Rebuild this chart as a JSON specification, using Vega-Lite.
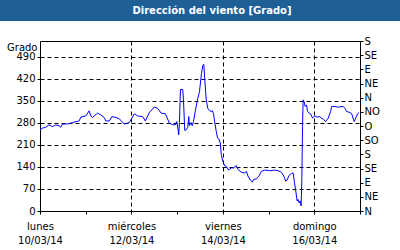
{
  "$schema": "https://vega.github.io/schema/vega-lite/v6.json",
  "padding": {"left": 0, "top": 0, "right": 0, "bottom": 4},
  "background": "white",
  "columns": 1,
  "spacing": 20,
  "bounds": "flush",
  "center": true,
  "config": {
    "font": "DejaVu Sans",
    "view": {"stroke": null},
    "axis": {
      "labelFont": "DejaVu Sans",
      "labelFontSize": 10,
      "labelColor": "black",
      "domainColor": "black",
      "tickColor": "black",
      "tickSize": 3,
      "gridColor": "black",
      "gridDash": [4, 3],
      "gridOpacity": 1,
      "labelOverlap": false
    }
  },
  "concat": [
    {
      "width": 400,
      "height": 21,
      "view": {"fill": "#1E5F96", "stroke": null},
      "data": {"values": [{"title": "Dirección del viento [Grado]"}]},
      "mark": {"type": "text", "color": "white", "font": "DejaVu Sans", "fontSize": 10, "fontWeight": "bold", "dx": 12},
      "encoding": {"text": {"field": "title"}}
    },
    {
      "width": 320,
      "height": 170,
      "data": {
        "values": [
          {"t": "2014-03-10T00:00", "v": 258},
          {"t": "2014-03-10T01:13", "v": 263},
          {"t": "2014-03-10T03:00", "v": 266},
          {"t": "2014-03-10T04:44", "v": 274},
          {"t": "2014-03-10T06:29", "v": 268},
          {"t": "2014-03-10T08:16", "v": 273},
          {"t": "2014-03-10T10:00", "v": 271},
          {"t": "2014-03-10T10:54", "v": 266},
          {"t": "2014-03-10T11:45", "v": 276},
          {"t": "2014-03-10T15:16", "v": 277},
          {"t": "2014-03-10T17:01", "v": 281},
          {"t": "2014-03-10T20:32", "v": 286},
          {"t": "2014-03-10T21:26", "v": 298},
          {"t": "2014-03-11T00:04", "v": 302},
          {"t": "2014-03-11T01:48", "v": 318},
          {"t": "2014-03-11T02:42", "v": 302},
          {"t": "2014-03-11T03:33", "v": 297},
          {"t": "2014-03-11T06:11", "v": 311},
          {"t": "2014-03-11T07:58", "v": 305},
          {"t": "2014-03-11T09:42", "v": 297},
          {"t": "2014-03-11T10:36", "v": 286},
          {"t": "2014-03-11T12:20", "v": 286},
          {"t": "2014-03-11T13:46", "v": 300},
          {"t": "2014-03-11T15:52", "v": 297},
          {"t": "2014-03-11T17:36", "v": 293},
          {"t": "2014-03-11T19:02", "v": 284},
          {"t": "2014-03-11T20:14", "v": 276},
          {"t": "2014-03-11T21:59", "v": 279},
          {"t": "2014-03-11T23:14", "v": 284},
          {"t": "2014-03-12T01:30", "v": 309},
          {"t": "2014-03-12T03:15", "v": 302},
          {"t": "2014-03-12T05:53", "v": 300},
          {"t": "2014-03-12T07:18", "v": 286},
          {"t": "2014-03-12T09:25", "v": 313},
          {"t": "2014-03-12T12:02", "v": 330},
          {"t": "2014-03-12T13:47", "v": 326},
          {"t": "2014-03-12T15:34", "v": 311},
          {"t": "2014-03-12T17:50", "v": 309},
          {"t": "2014-03-12T19:56", "v": 279},
          {"t": "2014-03-12T21:41", "v": 274},
          {"t": "2014-03-12T23:06", "v": 274},
          {"t": "2014-03-12T23:47", "v": 284},
          {"t": "2014-03-13T00:19", "v": 266},
          {"t": "2014-03-13T00:50", "v": 242},
          {"t": "2014-03-13T01:12", "v": 281},
          {"t": "2014-03-13T01:44", "v": 386},
          {"t": "2014-03-13T02:56", "v": 386},
          {"t": "2014-03-13T03:19", "v": 353},
          {"t": "2014-03-13T04:00", "v": 256},
          {"t": "2014-03-13T04:44", "v": 258},
          {"t": "2014-03-13T05:35", "v": 266},
          {"t": "2014-03-13T06:06", "v": 300},
          {"t": "2014-03-13T06:28", "v": 271},
          {"t": "2014-03-13T07:22", "v": 281},
          {"t": "2014-03-13T07:54", "v": 271},
          {"t": "2014-03-13T08:35", "v": 284},
          {"t": "2014-03-13T09:38", "v": 321},
          {"t": "2014-03-13T10:51", "v": 358},
          {"t": "2014-03-13T11:44", "v": 379},
          {"t": "2014-03-13T12:47", "v": 437},
          {"t": "2014-03-13T13:29", "v": 463},
          {"t": "2014-03-13T14:00", "v": 466},
          {"t": "2014-03-13T14:32", "v": 416},
          {"t": "2014-03-13T15:16", "v": 353},
          {"t": "2014-03-13T16:07", "v": 326},
          {"t": "2014-03-13T17:00", "v": 319},
          {"t": "2014-03-13T17:54", "v": 316},
          {"t": "2014-03-13T18:26", "v": 319},
          {"t": "2014-03-13T19:07", "v": 309},
          {"t": "2014-03-13T19:48", "v": 279},
          {"t": "2014-03-13T20:32", "v": 253},
          {"t": "2014-03-13T21:13", "v": 232},
          {"t": "2014-03-13T21:55", "v": 229},
          {"t": "2014-03-13T22:38", "v": 216},
          {"t": "2014-03-13T23:10", "v": 179},
          {"t": "2014-03-14T00:01", "v": 158},
          {"t": "2014-03-14T00:54", "v": 144},
          {"t": "2014-03-14T01:48", "v": 142},
          {"t": "2014-03-14T03:01", "v": 130},
          {"t": "2014-03-14T04:26", "v": 137},
          {"t": "2014-03-14T05:39", "v": 137},
          {"t": "2014-03-14T07:04", "v": 144},
          {"t": "2014-03-14T07:55", "v": 132},
          {"t": "2014-03-14T09:42", "v": 123},
          {"t": "2014-03-14T11:26", "v": 121},
          {"t": "2014-03-14T12:20", "v": 126},
          {"t": "2014-03-14T13:11", "v": 111},
          {"t": "2014-03-14T14:26", "v": 98},
          {"t": "2014-03-14T15:29", "v": 92},
          {"t": "2014-03-14T16:11", "v": 100},
          {"t": "2014-03-14T17:36", "v": 102},
          {"t": "2014-03-14T18:58", "v": 111},
          {"t": "2014-03-14T20:14", "v": 126},
          {"t": "2014-03-14T21:58", "v": 130},
          {"t": "2014-03-15T00:36", "v": 128},
          {"t": "2014-03-15T03:14", "v": 130},
          {"t": "2014-03-15T04:58", "v": 128},
          {"t": "2014-03-15T06:46", "v": 123},
          {"t": "2014-03-15T07:59", "v": 111},
          {"t": "2014-03-15T09:02", "v": 95},
          {"t": "2014-03-15T09:43", "v": 98},
          {"t": "2014-03-15T10:46", "v": 113},
          {"t": "2014-03-15T12:02", "v": 119},
          {"t": "2014-03-15T12:53", "v": 121},
          {"t": "2014-03-15T13:37", "v": 90},
          {"t": "2014-03-15T14:18", "v": 63},
          {"t": "2014-03-15T14:59", "v": 32},
          {"t": "2014-03-15T15:31", "v": 37},
          {"t": "2014-03-15T16:02", "v": 26},
          {"t": "2014-03-15T16:34", "v": 32},
          {"t": "2014-03-15T17:05", "v": 16},
          {"t": "2014-03-15T17:28", "v": 100},
          {"t": "2014-03-15T17:50", "v": 268},
          {"t": "2014-03-15T18:08", "v": 353},
          {"t": "2014-03-15T18:40", "v": 347},
          {"t": "2014-03-15T19:12", "v": 332},
          {"t": "2014-03-15T19:56", "v": 337},
          {"t": "2014-03-15T20:28", "v": 316},
          {"t": "2014-03-15T21:19", "v": 311},
          {"t": "2014-03-15T22:02", "v": 309},
          {"t": "2014-03-15T23:06", "v": 295},
          {"t": "2014-03-16T00:18", "v": 302},
          {"t": "2014-03-16T01:31", "v": 298},
          {"t": "2014-03-16T02:34", "v": 300},
          {"t": "2014-03-16T03:50", "v": 295},
          {"t": "2014-03-16T04:41", "v": 292},
          {"t": "2014-03-16T05:56", "v": 284},
          {"t": "2014-03-16T07:19", "v": 295},
          {"t": "2014-03-16T08:35", "v": 316},
          {"t": "2014-03-16T09:06", "v": 332},
          {"t": "2014-03-16T10:50", "v": 332},
          {"t": "2014-03-16T12:35", "v": 330},
          {"t": "2014-03-16T15:13", "v": 332},
          {"t": "2014-03-16T16:06", "v": 326},
          {"t": "2014-03-16T17:00", "v": 316},
          {"t": "2014-03-16T18:44", "v": 313},
          {"t": "2014-03-16T19:38", "v": 309},
          {"t": "2014-03-16T20:29", "v": 292},
          {"t": "2014-03-16T21:00", "v": 284},
          {"t": "2014-03-16T21:54", "v": 298},
          {"t": "2014-03-16T22:47", "v": 309},
          {"t": "2014-03-16T23:28", "v": 312}
        ]
      },
      "layer": [
        {
          "mark": {"type": "line", "opacity": 0},
          "encoding": {
            "x": {
              "field": "t", "type": "temporal",
              "scale": {"domain": [{"year": 2014, "month": 3, "date": 10}, {"year": 2014, "month": 3, "date": 17}]},
              "axis": {
                "orient": "bottom",
                "title": null,
                "values": [
                  {"year": 2014, "month": 3, "date": 10},
                  {"year": 2014, "month": 3, "date": 11},
                  {"year": 2014, "month": 3, "date": 12},
                  {"year": 2014, "month": 3, "date": 13},
                  {"year": 2014, "month": 3, "date": 14},
                  {"year": 2014, "month": 3, "date": 15},
                  {"year": 2014, "month": 3, "date": 16},
                  {"year": 2014, "month": 3, "date": 17}
                ],
                "labelExpr": "date(datum.value) % 2 == 0 && date(datum.value) < 17 ? [['domingo','lunes','martes','miércoles','jueves','viernes','sábado'][day(datum.value)], timeFormat(datum.value, '%d/%m/%y')] : ''",
                "labelFlush": false,
                "labelBound": false,
                "labelAngle": 0,
                "labelAlign": "center",
                "labelBaseline": "top",
                "labelLineHeight": 14,
                "labelPadding": 7,
                "grid": true,
                "gridOpacity": {"condition": {"test": "date(datum.value) == 12 || date(datum.value) == 14 || date(datum.value) == 16", "value": 1}, "value": 0}
              }
            },
            "y": {
              "field": "v", "type": "quantitative",
              "scale": {"domain": [0, 540], "nice": false, "zero": true},
              "axis": {
                "orient": "left",
                "values": [0, 70, 140, 210, 280, 350, 420, 490],
                "title": "Grado",
                "titleAngle": 0,
                "titleAlign": "right",
                "titleBaseline": "middle",
                "titleX": -3,
                "titleY": 6,
                "titleFont": "DejaVu Sans",
                "titleFontSize": 10,
                "titleFontWeight": "normal",
                "titleColor": "black",
                "labelPadding": 2,
                "grid": true
              }
            }
          }
        },
        {
          "mark": {"type": "line", "color": "#0000FF", "strokeWidth": 1},
          "encoding": {
            "x": {
              "field": "t", "type": "temporal",
              "scale": {"domain": [{"year": 2014, "month": 3, "date": 10}, {"year": 2014, "month": 3, "date": 17}]},
              "axis": {"orient": "top", "title": null, "labels": false, "ticks": false, "grid": false}
            },
            "y": {
              "field": "v", "type": "quantitative",
              "scale": {"domain": [0, 540], "nice": false, "zero": true},
              "axis": {
                "orient": "right",
                "title": null,
                "values": [0, 45, 90, 135, 180, 225, 270, 315, 360, 405, 450, 495, 540],
                "labelExpr": "['N','NE','E','SE','S','SO','O','NO','N','NE','E','SE','S'][round(datum.value / 45)]",
                "labelPadding": 1,
                "grid": false
              }
            }
          }
        }
      ],
      "resolve": {"axis": {"x": "independent", "y": "independent"}}
    }
  ]
}
